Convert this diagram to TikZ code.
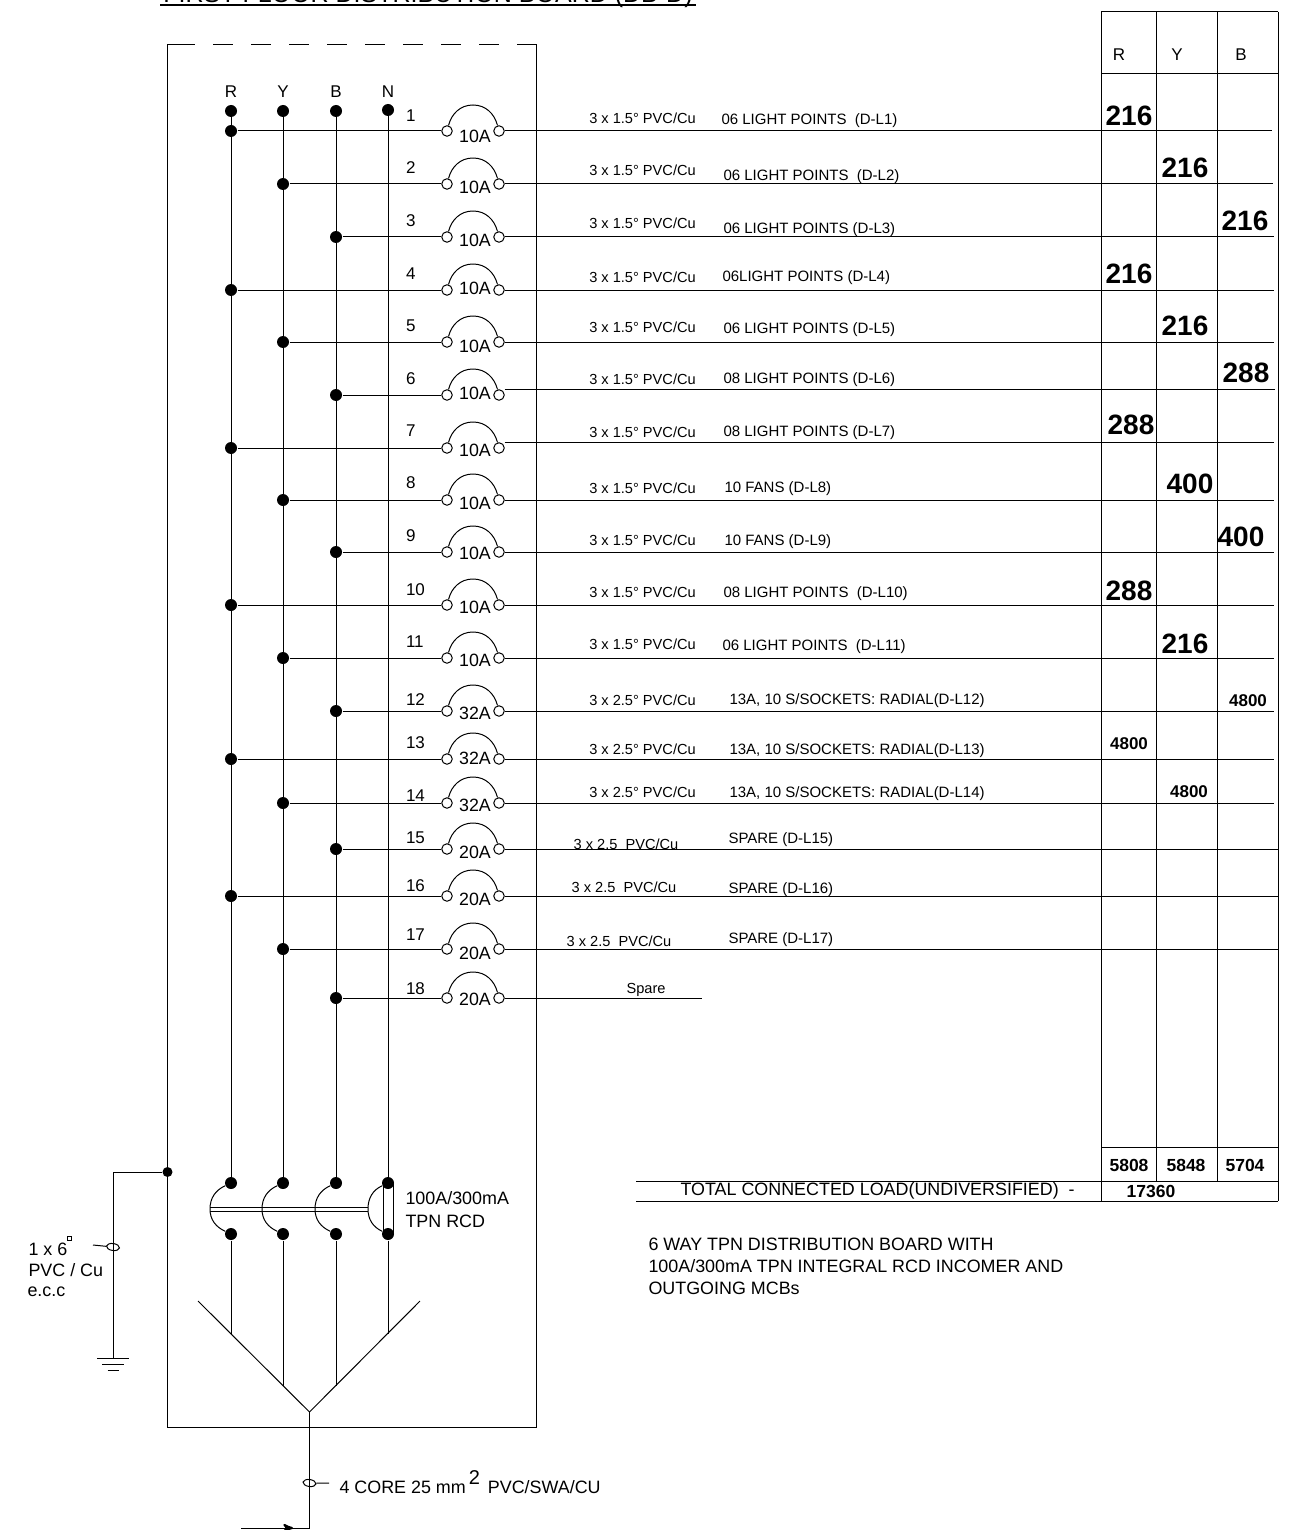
\documentclass[tikz,border=0pt]{standalone}
\usepackage{fontspec}
\setmainfont{Liberation Sans}
\usepackage{tikz}
\usetikzlibrary{arrows}
\usetikzlibrary{shapes.geometric}

\begin{document}
\begin{tikzpicture}[x=1pt,y=-1pt,line width=1pt,>=stealth']
    \tikzstyle{jn}=[circle, fill=black, inner sep=0pt, minimum size=12pt]
    \tikzstyle{cb}=[circle, draw=black, fill=white, inner sep=0pt, minimum size=10.5pt]
    \tikzstyle{tick}=[ellipse, draw=black, inner sep=0pt, minimum width=13pt, minimum height=7pt, rotate=-8]
    \tikzstyle{txt}=[inner sep=0pt, font=\fontsize{17.9}{17.9}\selectfont]
    \tikzstyle{head}=[inner sep=0pt, font=\fontsize{17}{17}\selectfont]
    \tikzstyle{num}=[inner sep=0pt, anchor=west, font=\fontsize{17}{17}\selectfont]
    \tikzstyle{amp}=[inner sep=0pt, font=\fontsize{17.8}{17.8}\selectfont]
    \tikzstyle{cbl}=[inner sep=0pt, font=\fontsize{14.6}{14.6}\selectfont]
    \tikzstyle{dsc}=[inner sep=0pt, anchor=west, yshift=-1.5pt, font=\fontsize{15}{15}\selectfont]
    \tikzstyle{lg}=[inner sep=0pt, font=\fontsize{28}{28}\selectfont\bfseries]
    \tikzstyle{sm}=[inner sep=0pt, font=\fontsize{17}{17}\selectfont\bfseries]
    \tikzstyle{tot}=[inner sep=0pt, font=\fontsize{17.5}{17.5}\selectfont\bfseries]

    \useasboundingbox (0,0) rectangle (1297,1530);

    \node[inner sep=0pt, anchor=base, font=\fontsize{25}{25}\selectfont] (title) at (428,3) {FIRST FLOOR DISTRIBUTION BOARD (DB-D)};
    \coordinate (ul1) at (160,5);
    \coordinate (ul2) at (696,5);
    \draw[line width=2pt] (ul1) -- (ul2);

    % board
    \coordinate (nw) at (167,45);
    \coordinate (ne) at (536.5,45);
    \coordinate (sw) at (167,1427);
    \coordinate (se) at (536.5,1427);
    \coordinate (dsh) at (194,45);
    \draw (dsh) -- (nw) -- (sw) -- (se) -- (ne);
    \draw[dash pattern=on 20pt off 18pt] (ne) -- (dsh);

    % bus bars
    \node[head] (lr) at (231,92) {R};
    \node[head] (ly) at (283,92) {Y};
    \node[head] (lb) at (336,92) {B};
    \node[head] (ln) at (388,92) {N};
    \node[jn] (rt) at (231,111)  {};
    \node[jn] (yt) at (283,111)  {};
    \node[jn] (bt) at (336,111)  {};
    \node[jn] (nt) at (388,110)  {};
    \node[jn] (r1) at (231,1183) {};
    \node[jn] (y1) at (283,1183) {};
    \node[jn] (b1) at (336,1183) {};
    \node[jn] (n1) at (388,1183) {};
    \node[jn] (r2) at (231,1234) {};
    \node[jn] (y2) at (283,1234) {};
    \node[jn] (b2) at (336,1234) {};
    \node[jn] (n2) at (388,1234) {};
    \coordinate (vl) at (198,1301);
    \coordinate (vr) at (420,1301);
    \coordinate (vm) at (309.5,1412);
    \coordinate (vr1) at (231,1334);
    \coordinate (vy1) at (283,1386);
    \coordinate (vb1) at (336,1386);
    \coordinate (vn1) at (388,1334);
    \coordinate (rcdl) at (210,1209);
    \coordinate (rcdy) at (262,1209);
    \coordinate (rcdb) at (315,1209);
    \coordinate (rcdn) at (368,1209);

    \path[draw]
     (rt) edge (r1)
     (yt) edge (y1)
     (bt) edge (b1)
     (nt) edge (n1)
     (r2) edge (vr1)
     (y2) edge (vy1)
     (b2) edge (vb1)
     (n2) edge (vn1)
     (vl) edge (vm)
     (vr) edge (vm)
     (r1) edge[out=205,in=90] (rcdl)
     (rcdl) edge[out=-90,in=155] (r2)
     (y1) edge[out=205,in=90] (rcdy)
     (rcdy) edge[out=-90,in=155] (y2)
     (b1) edge[out=205,in=90] (rcdb)
     (rcdb) edge[out=-90,in=155] (b2)
     (n1) edge[out=205,in=90] (rcdn)
     (rcdn) edge[out=-90,in=155] (n2)
     ([yshift=2pt]rcdl) edge ([yshift=2pt]rcdn)
     ([yshift=-2pt]rcdl) edge ([yshift=-2pt]rcdn)
     ([xshift=-5pt]n1.center) edge ([xshift=-5pt]n2.center)
     ([xshift=5pt]n1.center) edge ([xshift=5pt]n2.center)
     ;

    \node[txt, anchor=west] (rcd1) at (405,1198) {100A/300mA};
    \node[txt, anchor=west] (rcd2) at (405,1221) {TPN RCD};

    % outgoing ways
    \foreach \i/\y/\ry/\p/\ny/\ay/\amps/\ex in {
      1/131/131/231/116/136/10A/1272, 2/184/184/283/168/187/10A/1273, 3/237/237/336/221/240/10A/1274,
      4/290/290/231/274/288/10A/1274, 5/342/342/283/326/346/10A/1274, 6/395/389/336/379/393/10A/1275,
      7/448/442/231/431/450/10A/1274, 8/500/500/283/483/503/10A/1274, 9/552/552/336/536/553/10A/1274,
      10/605/605/231/590/607/10A/1274, 11/658/658/283/642/660/10A/1274, 12/711/711/336/700/713/32A/1274,
      13/759/759/231/743/758/32A/1274, 14/803/803/283/796/805/32A/1274, 15/849/849/336/838/852/20A/1278,
      16/896/896/231/886/899/20A/1278, 17/949/949/283/935/953/20A/1278, 18/998/998/336/989/999/20A/702}
    {
      \node[jn] (t\i) at (\p,\y) {};
      \node[cb] (cl\i) at (447,\y) {};
      \node[cb] (cr\i) at (499,\y) {};
      \coordinate (top\i) at (473,\y-26);
      \coordinate (st\i) at (504.5,\ry);
      \coordinate (end\i) at (\ex,\ry);
      \node[num] (w\i) at (405.5,\ny) {\i};
      \node[amp] (a\i) at (475,\ay) {\amps};
      \path[draw]
       (t\i) edge (cl\i)
       (st\i) edge (end\i)
       (cl\i) edge[out=75,in=180] (top\i)
       (top\i) edge[out=0,in=105] (cr\i)
       ;
    }

    % cables
    \node[cbl] (c1) at (642.5,118)  {3 x 1.5° PVC/Cu};
    \node[cbl] (c2) at (642.5,170)  {3 x 1.5° PVC/Cu};
    \node[cbl] (c3) at (642.5,223)  {3 x 1.5° PVC/Cu};
    \node[cbl] (c4) at (642.5,277)  {3 x 1.5° PVC/Cu};
    \node[cbl] (c5) at (642.5,327)  {3 x 1.5° PVC/Cu};
    \node[cbl] (c6) at (642.5,379)  {3 x 1.5° PVC/Cu};
    \node[cbl] (c7) at (642.5,432)  {3 x 1.5° PVC/Cu};
    \node[cbl] (c8) at (642.5,488)  {3 x 1.5° PVC/Cu};
    \node[cbl] (c9) at (642.5,540)  {3 x 1.5° PVC/Cu};
    \node[cbl] (c10) at (642.5,592) {3 x 1.5° PVC/Cu};
    \node[cbl] (c11) at (642.5,644) {3 x 1.5° PVC/Cu};
    \node[cbl] (c12) at (642.5,700) {3 x 2.5° PVC/Cu};
    \node[cbl] (c13) at (642.5,749) {3 x 2.5° PVC/Cu};
    \node[cbl] (c14) at (642.5,792) {3 x 2.5° PVC/Cu};
    \node[cbl] (c15) at (626,844)   {3 x 2.5~ PVC/Cu};
    \node[cbl] (c16) at (624,887)   {3 x 2.5~ PVC/Cu};
    \node[cbl] (c17) at (619,941)   {3 x 2.5~ PVC/Cu};
    \node[cbl] (c18) at (646,990)   {Spare};

    % circuits
    \node[dsc] (d1) at (721,119)  {06 LIGHT POINTS~ (D-L1)};
    \node[dsc] (d2) at (723,175)  {06 LIGHT POINTS~ (D-L2)};
    \node[dsc] (d3) at (723,228)  {06 LIGHT POINTS (D-L3)};
    \node[dsc] (d4) at (722,276)  {06LIGHT POINTS (D-L4)};
    \node[dsc] (d5) at (723,328)  {06 LIGHT POINTS (D-L5)};
    \node[dsc] (d6) at (723,378)  {08 LIGHT POINTS (D-L6)};
    \node[dsc] (d7) at (723,431)  {08 LIGHT POINTS (D-L7)};
    \node[dsc] (d8) at (724,487)  {10 FANS (D-L8)};
    \node[dsc] (d9) at (724,540)  {10 FANS (D-L9)};
    \node[dsc] (d10) at (723,592) {08 LIGHT POINTS~ (D-L10)};
    \node[dsc] (d11) at (722,645) {06 LIGHT POINTS~ (D-L11)};
    \node[dsc] (d12) at (729,699) {13A, 10 S/SOCKETS: RADIAL(D-L12)};
    \node[dsc] (d13) at (729,749) {13A, 10 S/SOCKETS: RADIAL(D-L13)};
    \node[dsc] (d14) at (729,792) {13A, 10 S/SOCKETS: RADIAL(D-L14)};
    \node[dsc] (d15) at (728,838) {SPARE (D-L15)};
    \node[dsc] (d16) at (728,888) {SPARE (D-L16)};
    \node[dsc] (d17) at (728,938) {SPARE (D-L17)};

    % load table
    \coordinate (tr0) at (1101,12);
    \coordinate (ty0) at (1156,12);
    \coordinate (tb0) at (1217,12);
    \coordinate (te0) at (1278,12);
    \coordinate (tr1) at (1101,74);
    \coordinate (te1) at (1278,74);
    \coordinate (tr2) at (1101,1147);
    \coordinate (te2) at (1278,1147);
    \coordinate (tl3) at (636,1181);
    \coordinate (ty3) at (1156,1181);
    \coordinate (tb3) at (1217,1181);
    \coordinate (te3) at (1278,1181);
    \coordinate (tl4) at (636,1201);
    \coordinate (tr4) at (1101,1201);
    \coordinate (te4) at (1278,1201);
    \path[draw]
     (tr0) edge (te0)
     (tr1) edge (te1)
     (tr2) edge (te2)
     (tl3) edge (te3)
     (tl4) edge (te4)
     (tr0) edge (tr4)
     (ty0) edge (ty3)
     (tb0) edge (tb3)
     (te0) edge (te4)
     ;

    \node[head] (hr) at (1119,55) {R};
    \node[head] (hy) at (1177,55) {Y};
    \node[head] (hb) at (1241,55) {B};

    \node[lg] (p1) at (1129,116)  {216};
    \node[lg] (p2) at (1185,168)  {216};
    \node[lg] (p3) at (1245,221)  {216};
    \node[lg] (p4) at (1129,274)  {216};
    \node[lg] (p5) at (1185,326)  {216};
    \node[lg] (p6) at (1246,373)  {288};
    \node[lg] (p7) at (1131,425)  {288};
    \node[lg] (p8) at (1190,484)  {400};
    \node[lg] (p9) at (1241,537)  {400};
    \node[lg] (p10) at (1129,591) {288};
    \node[lg] (p11) at (1185,644) {216};
    \node[sm] (p12) at (1248,701) {4800};
    \node[sm] (p13) at (1129,744) {4800};
    \node[sm] (p14) at (1189,792) {4800};

    \node[tot] (sr) at (1129,1165) {5808};
    \node[tot] (sy) at (1186,1165) {5848};
    \node[tot] (sb) at (1245,1165) {5704};
    \node[tot] (sa) at (1151,1191) {17360};
    \node[txt, anchor=west] (tcl) at (680,1191) {TOTAL CONNECTED LOAD(UNDIVERSIFIED)~ -};

    \node[txt, anchor=west] (n1a) at (648,1244) {6 WAY TPN DISTRIBUTION BOARD WITH};
    \node[txt, anchor=west] (n1b) at (648,1266) {100A/300mA TPN INTEGRAL RCD INCOMER AND};
    \node[txt, anchor=west] (n1c) at (648,1288) {OUTGOING MCBs};

    % earth
    \node[jn, minimum size=10pt] (ej) at (167.5,1172) {};
    \coordinate (eb) at (113,1172);
    \coordinate (gnd) at (113,1358);
    \coordinate (g2) at (113,1364);
    \coordinate (g3) at (113,1370);
    \node[tick] (et) at (113,1247) {};
    \coordinate (ett) at (93,1245);
    \path[draw]
     (ej) edge (eb)
     (eb) edge (gnd)
     (ett) edge (et)
     ([xshift=-16pt]gnd) edge ([xshift=16pt]gnd)
     ([xshift=-11pt]g2) edge ([xshift=11pt]g2)
     ([xshift=-5.5pt]g3) edge ([xshift=5.5pt]g3)
     ;
    \node[txt, anchor=west] (e1) at (28,1249) {1 x 6};
    \node[draw, line width=0.5pt, inner sep=0pt, minimum size=4.5pt] (e0) at (69,1238) {};
    \node[txt, anchor=west] (e2) at (28,1270) {PVC / Cu};
    \node[txt, anchor=west] (e3) at (27,1292) {e.c.c};

    % incoming
    \coordinate (fd) at (309.5,1528);
    \coordinate (fe) at (241,1528);
    \coordinate (fa0) at (285,1528);
    \coordinate (fa) at (293,1528);
    \node[tick] (ft) at (309.5,1483) {};
    \coordinate (ftt) at (329,1483);
    \path[draw]
     (vm) edge (fd)
     (fd) edge (fe)
     (fa0) edge[->,line width=2.2pt] (fa)
     (ftt) edge (ft)
     ;
    \node[txt, anchor=west] (f1) at (339,1482) {4 CORE 25 mm\,\raisebox{9pt}{\fontsize{20}{20}\selectfont 2}\, PVC/SWA/CU};
\end{tikzpicture}
\end{document}
